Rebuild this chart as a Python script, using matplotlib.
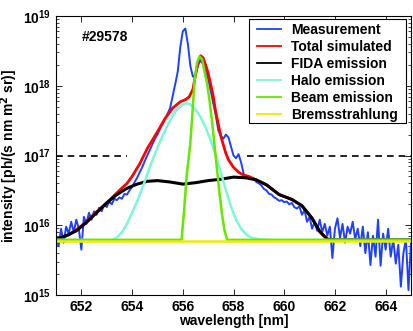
import numpy as np
import matplotlib
matplotlib.use("Agg")
import matplotlib.pyplot as plt
from matplotlib.ticker import LogLocator, NullFormatter, FixedLocator
from matplotlib.patches import Rectangle

plt.rcParams['font.family'] = ['Liberation Sans', 'DejaVu Sans']
plt.rcParams['font.weight'] = 'bold'
plt.rcParams['mathtext.default'] = 'bf'

# ---- data (intensities given as log10 values) ----
meas_wl_start, meas_wl_step = 651.0, 0.1
meas_log10 = [
    15.85, 15.70, 15.95, 15.75, 15.98, 15.88, 16.05, 15.90, 16.08, 15.95,
    15.65, 16.12, 16.02, 16.18, 16.08, 16.20, 16.15, 16.25, 16.20, 16.30,
    16.26, 16.34, 16.30, 16.38, 16.36, 16.40, 16.38, 16.45, 16.44, 16.50,
    16.55, 16.62, 16.68, 16.76, 16.83, 16.92, 17.00, 17.08, 17.16, 17.24,
    17.30, 17.38, 17.45, 17.52, 17.60, 17.68, 17.85, 18.02, 18.20, 18.55,
    18.78, 18.82, 18.60, 18.28, 18.13, 18.15, 18.30, 18.36, 18.31, 18.20,
    18.10, 17.93, 17.75, 17.58, 17.36, 17.28, 17.24, 17.30, 17.26, 17.13,
    17.00, 16.96, 17.02, 16.90, 16.74, 16.68, 16.70, 16.66, 16.67, 16.62,
    16.60, 16.57, 16.52, 16.50, 16.45, 16.44, 16.40, 16.38, 16.35, 16.36,
    16.33, 16.34, 16.30, 16.32, 16.26, 16.24, 16.27, 16.15, 16.22, 16.05,
    16.12, 15.95, 16.05, 15.92, 16.08, 15.90, 16.02, 15.85, 15.98, 15.53,
    15.95, 16.10, 15.82, 16.02, 15.75, 15.98, 15.88, 16.05, 15.80, 15.95,
    15.70, 15.98, 15.60, 15.90, 15.43, 15.85, 15.55, 16.08, 15.42, 15.88,
    15.65, 15.95, 15.55, 15.80, 15.45, 15.72, 15.12, 15.60, 15.80, 15.07,
    15.75,
]

total_wl = [651.0, 651.5, 652.0, 652.5, 653.0, 653.5, 653.8, 654.0, 654.3, 654.6,
            655.0, 655.3, 655.6, 655.9, 656.1, 656.25, 656.4, 656.5, 656.6, 656.7,
            656.8, 656.9, 657.0, 657.1, 657.2, 657.3, 657.4, 657.5, 657.6, 657.7,
            657.8, 658.0, 658.2, 658.4, 658.6, 658.9, 659.3, 659.8, 660.3, 660.7,
            661.1, 661.4, 661.7, 662.0, 665.0]
total_log10 = [15.80, 15.86, 15.99, 16.16, 16.32, 16.50, 16.60, 16.70, 16.88, 17.10,
               17.34, 17.53, 17.68, 17.77, 17.80, 17.84, 17.95, 18.15, 18.33, 18.43,
               18.40, 18.30, 18.18, 18.02, 17.85, 17.62, 17.45, 17.28, 17.15, 17.03,
               16.94, 16.83, 16.76, 16.72, 16.70, 16.65, 16.58, 16.44, 16.37, 16.28,
               16.10, 15.91, 15.80, 15.79, 15.79]

fida_wl = [651.0, 651.4, 651.8, 652.2, 652.6, 653.0, 653.4, 653.8, 654.2, 654.6,
           655.0, 655.5, 656.0, 656.5, 657.0, 657.5, 658.0, 658.5, 658.9, 659.3,
           659.8, 660.3, 660.7, 661.1, 661.4, 661.7, 662.0, 665.0]
fida_log10 = [15.80, 15.85, 15.92, 16.04, 16.18, 16.32, 16.44, 16.53, 16.59, 16.63,
              16.64, 16.62, 16.59, 16.61, 16.64, 16.66, 16.69, 16.68, 16.65, 16.58,
              16.44, 16.37, 16.28, 16.10, 15.91, 15.80, 15.79, 15.79]

halo_wl = [651.0, 653.2, 653.4, 653.6, 653.8, 654.0, 654.2, 654.4, 654.6, 654.8,
           655.0, 655.2, 655.4, 655.6, 655.8, 656.0, 656.15, 656.3, 656.5, 656.7,
           656.9, 657.1, 657.3, 657.5, 657.7, 657.9, 658.1, 658.3, 658.5, 658.7,
           659.0, 659.4, 665.0]
halo_log10 = [15.79, 15.79, 15.82, 15.90, 16.02, 16.18, 16.34, 16.53, 16.73, 16.93,
              17.11, 17.28, 17.43, 17.57, 17.67, 17.73, 17.75, 17.73, 17.66, 17.55,
              17.40, 17.22, 17.00, 16.76, 16.50, 16.27, 16.08, 15.95, 15.87, 15.82,
              15.80, 15.79, 15.79]

beam_wl = [651.0, 655.95, 656.05, 656.15, 656.29, 656.37, 656.46, 656.56, 656.66, 656.76,
           656.86, 656.95, 657.05, 657.15, 657.25, 657.35, 657.45, 657.55, 657.65, 657.75,
           665.0]
beam_log10 = [15.79, 15.79, 16.20, 16.70, 17.15, 17.55, 18.06, 18.33, 18.42, 18.38,
              18.20, 18.05, 17.80, 17.50, 17.15, 16.80, 16.45, 16.15, 15.92, 15.79,
              15.79]

brems_wl = [651.0, 665.0]
brems_log10 = [15.78, 15.78]

ref_level = 1e17
ref_left = [651.0, 653.8]
ref_right = [658.55, 665.0]

labels = ['Measurement', 'Total simulated', 'FIDA emission', 'Halo emission',
          'Beam emission', 'Bremsstrahlung']
colors = ['#2040ff', '#ff0000', '#000000', '#7ff5d8', '#66e600', '#ecec00']

meas_wl = meas_wl_start + meas_wl_step * np.arange(len(meas_log10))

fig = plt.figure(figsize=(4.14, 3.31), dpi=100)
ax = fig.add_axes([56/414, 1 - 295/331, (411 - 56)/414, (295 - 16)/331])

ax.plot(meas_wl, 10 ** np.array(meas_log10), color=colors[0], lw=1.4, label=labels[0])
ax.plot(total_wl, 10 ** np.array(total_log10), color=colors[1], lw=2.0, label=labels[1])
ax.plot(fida_wl, 10 ** np.array(fida_log10), color=colors[2], lw=2.2, label=labels[2])
ax.plot(halo_wl, 10 ** np.array(halo_log10), color=colors[3], lw=1.8, label=labels[3])
ax.plot(beam_wl, 10 ** np.array(beam_log10), color=colors[4], lw=1.8, label=labels[4])
ax.plot(brems_wl, 10 ** np.array(brems_log10), color=colors[5], lw=1.8, label=labels[5])
ax.plot(ref_left, [ref_level, ref_level], color='black', lw=1.2, ls=(0, (4, 3)))
ax.plot(ref_right, [ref_level, ref_level], color='black', lw=1.2, ls=(0, (4, 3)))

ax.set_yscale('log')
ax.set_xlim(651, 665)
ax.set_ylim(1e15, 1e19)
ax.xaxis.set_major_locator(FixedLocator([652, 654, 656, 658, 660, 662, 664]))
ax.yaxis.set_major_locator(LogLocator(base=10, numticks=10))
ax.yaxis.set_minor_locator(LogLocator(base=10, subs=np.arange(2, 10), numticks=20))
ax.yaxis.set_minor_formatter(NullFormatter())
ax.tick_params(which='both', direction='in', top=True, right=True, labelsize=10)
ax.tick_params(which='major', length=4, width=0.6)
ax.tick_params(which='minor', length=2, width=0.5)
for s in ax.spines.values():
    s.set_linewidth(0.8)

ax.set_xlabel('wavelength [nm]', fontsize=10, fontweight='bold', labelpad=0)
ax.set_ylabel(r'intensity [ph/(s nm m$^2$ sr)]', fontsize=10, fontweight='bold', labelpad=2)
ax.text(652.0, 10 ** 18.70, '#29578', fontsize=10, fontweight='bold', va='center')

# legend frame drawn as a rectangle, legend content placed inside it
frame = Rectangle((0.5445, 0.6154), 0.985 - 0.5445, 0.988 - 0.6154,
                  transform=ax.transAxes, facecolor='white', edgecolor='black',
                  lw=0.8, zorder=4.5)
ax.add_patch(frame)
leg = ax.legend(loc='upper left', bbox_to_anchor=(0.5654, 0.975), fontsize=10,
                frameon=False, handlelength=1.73, handletextpad=0.72,
                labelspacing=0.21, borderpad=0.0, borderaxespad=0.0)
leg.set_zorder(5)
for h in leg.get_lines():
    h.set_linewidth(1.3)

fig.savefig('out.png', dpi=100)
